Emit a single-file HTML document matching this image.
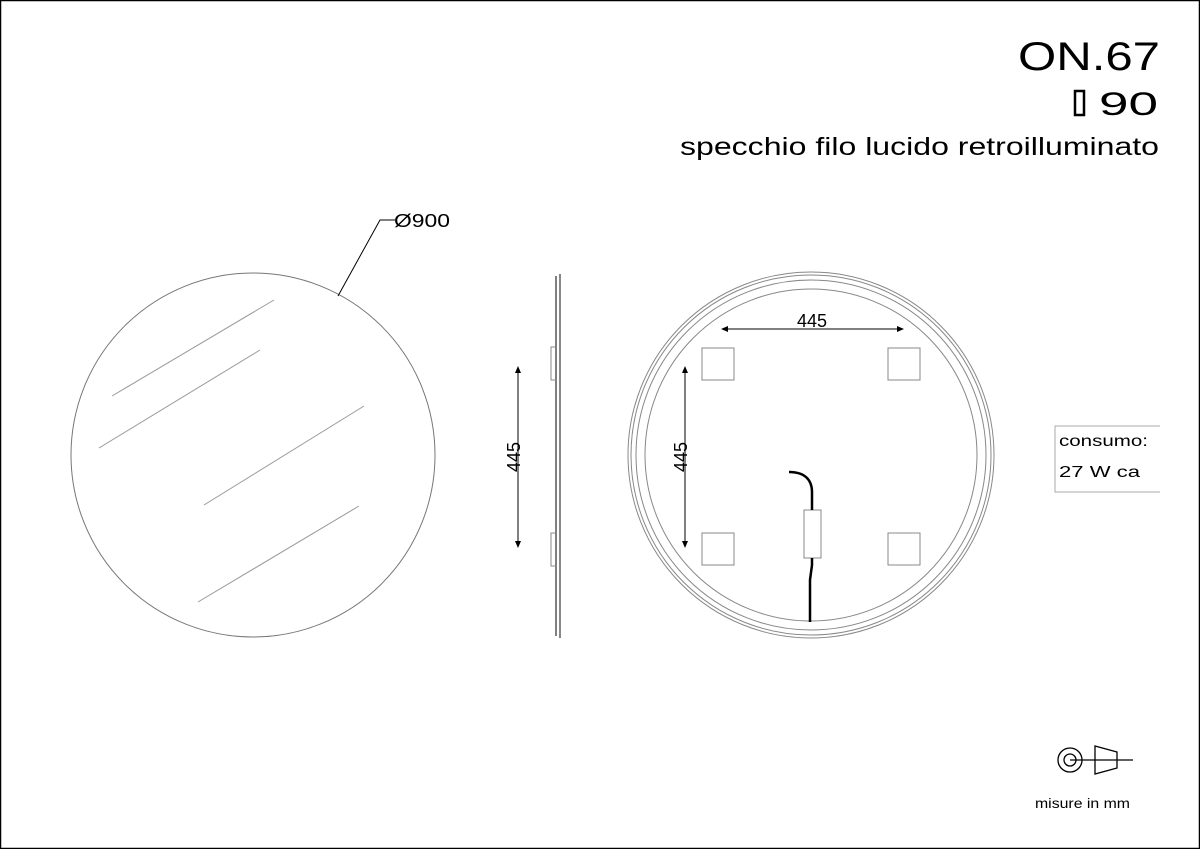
<!DOCTYPE html>
<html><head><style>
body{margin:0;background:#fff}
svg{display:block}
text{font-family:"Liberation Sans",sans-serif;fill:#000}
</style></head><body>
<svg width="1200" height="849" viewBox="0 0 1200 849" xmlns="http://www.w3.org/2000/svg">
<rect x="0.5" y="0.5" width="1199" height="848" fill="#fff" stroke="#000" stroke-width="1.5"/>
<text x="1018" y="70" font-size="40" textLength="142" lengthAdjust="spacingAndGlyphs">ON.67</text>
<rect x="1075" y="91" width="9" height="24" fill="none" stroke="#000" stroke-width="2.5"/>
<text x="1099" y="115" font-size="32" textLength="59" lengthAdjust="spacingAndGlyphs">90</text>
<text x="680" y="155" font-size="25" textLength="479" lengthAdjust="spacingAndGlyphs">specchio filo lucido retroilluminato</text>

<!-- left circle -->
<circle cx="253" cy="455" r="182" fill="none" stroke="#777" stroke-width="1"/>
<g stroke="#999" stroke-width="1">
<line x1="112" y1="396" x2="274" y2="300"/>
<line x1="99" y1="448" x2="260" y2="350"/>
<line x1="204" y1="505" x2="364" y2="406"/>
<line x1="198" y1="602" x2="359" y2="506"/>
</g>
<polyline points="338,296 380,220 395,220" fill="none" stroke="#000" stroke-width="1"/>
<text x="394" y="227" font-size="18" textLength="56" lengthAdjust="spacingAndGlyphs">Ø900</text>

<!-- side view -->
<g fill="none" stroke-width="1">
<line x1="556" y1="276" x2="556" y2="636" stroke="#000"/>
<line x1="560" y1="274" x2="560" y2="638" stroke="#888" stroke-width="2"/>
<polyline points="557,347 551,347 551,380 557,380" stroke="#888"/>
<polyline points="557,533 551,533 551,566 557,566" stroke="#888"/>
</g>
<line x1="518" y1="370" x2="518" y2="544" stroke="#000"/>
<path d="M518,366 l-3,7 h6z M518,548 l-3,-7 h6z" fill="#000"/>
<text transform="translate(520,457) rotate(-90)" font-size="18" text-anchor="middle">445</text>

<!-- right view -->
<g fill="none" stroke="#888" stroke-width="1">
<circle cx="811" cy="455" r="183"/>
<circle cx="811" cy="455" r="180"/>
<circle cx="811" cy="455" r="175"/>
<circle cx="811" cy="455" r="166"/>
<rect x="702" y="348" width="32" height="32"/>
<rect x="888" y="348" width="32" height="32"/>
<rect x="702" y="533" width="32" height="32"/>
<rect x="888" y="533" width="32" height="32"/>
<rect x="804" y="510" width="17" height="48"/>
</g>
<line x1="725" y1="329" x2="900" y2="329" stroke="#000"/>
<path d="M721,329 l7,-3 v6z M904,329 l-7,-3 v6z" fill="#000"/>
<text x="812" y="327" font-size="18" text-anchor="middle">445</text>
<line x1="685" y1="370" x2="685" y2="544" stroke="#000"/>
<path d="M685,366 l-3,7 h6z M685,548 l-3,-7 h6z" fill="#000"/>
<text transform="translate(687,457) rotate(-90)" font-size="18" text-anchor="middle">445</text>
<path d="M789,472 C805,472 812,480 812,492 V510 M812,558 V565 L810,580 V622" fill="none" stroke="#000" stroke-width="2.5"/>

<!-- consumo -->
<polyline points="1160,426 1055,426 1055,492 1160,492" fill="none" stroke="#aaa"/>
<text x="1059" y="446" font-size="16" textLength="89" lengthAdjust="spacingAndGlyphs">consumo:</text>
<text x="1059" y="477" font-size="16" textLength="81" lengthAdjust="spacingAndGlyphs">27 W ca</text>

<!-- legend -->
<g fill="none" stroke="#000" stroke-width="1.3">
<circle cx="1070" cy="760" r="12"/>
<circle cx="1070" cy="760" r="6"/>
<line x1="1070" y1="760" x2="1133" y2="760"/>
<path d="M1095,746 L1117,752 V768 L1095,774 Z"/>
</g>
<text x="1035" y="808" font-size="14" textLength="95" lengthAdjust="spacingAndGlyphs">misure in mm</text>
</svg>
</body></html>
